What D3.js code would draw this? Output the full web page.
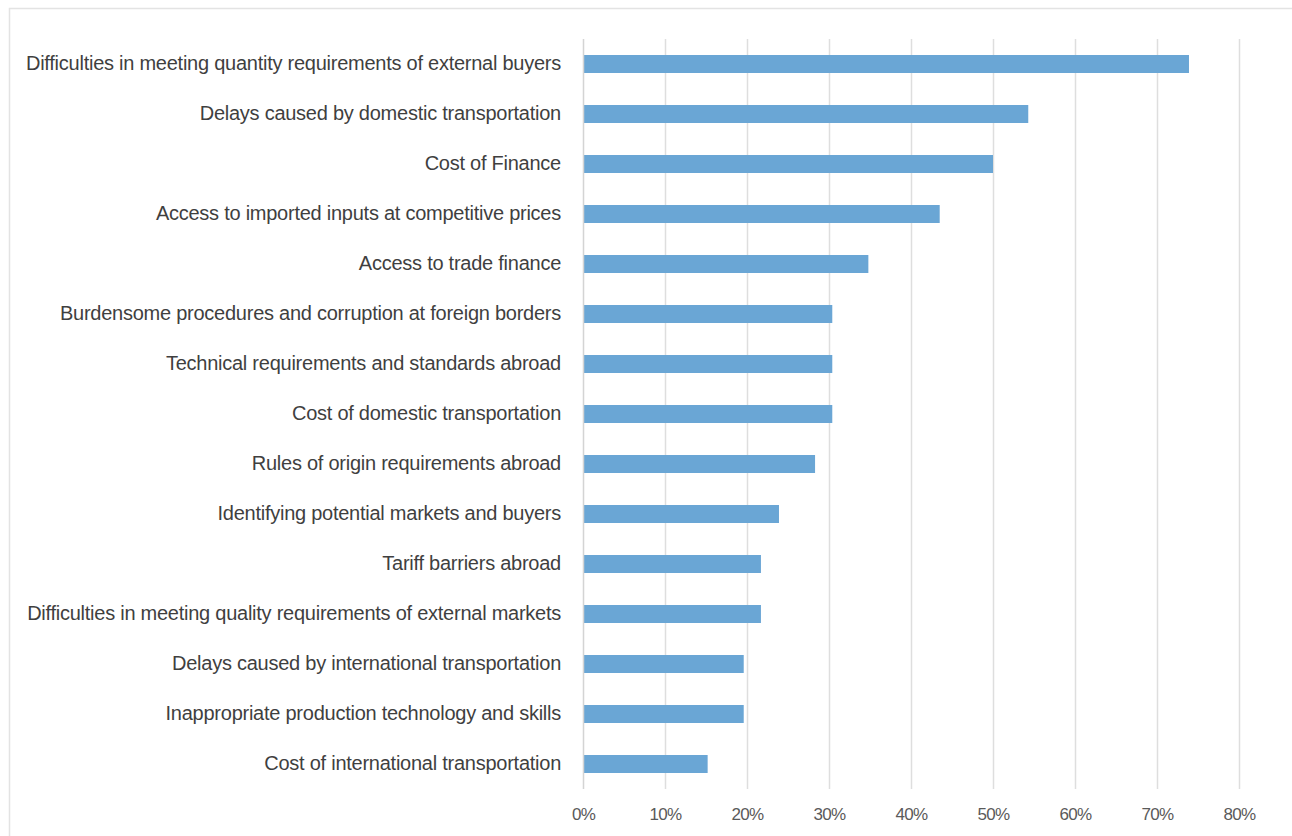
<!DOCTYPE html>
<html>
<head>
<meta charset="utf-8">
<script src="https://cdn.jsdelivr.net/npm/d3@7"></script>
<style>
  html, body { margin: 0; padding: 0; background: #ffffff; }
  svg { display: block; }
</style>
</head>
<body>
<svg id="chart" width="1292" height="836"></svg>
<script>
// Share of respondents reporting each export obstacle
const categories = [
  "Difficulties in meeting quantity requirements of external buyers",
  "Delays caused by domestic transportation",
  "Cost of Finance",
  "Access to imported inputs at competitive prices",
  "Access to trade finance",
  "Burdensome procedures and corruption at foreign borders",
  "Technical requirements and standards abroad",
  "Cost of domestic transportation",
  "Rules of origin requirements abroad",
  "Identifying potential markets and buyers",
  "Tariff barriers abroad",
  "Difficulties in meeting quality requirements of external markets",
  "Delays caused by international transportation",
  "Inappropriate production technology and skills",
  "Cost of international transportation"
];
const values = [0.739, 0.543, 0.500, 0.435, 0.348, 0.304, 0.304, 0.304, 0.283, 0.239, 0.217, 0.217, 0.196, 0.196, 0.152];
const tickValues = [0, 0.1, 0.2, 0.3, 0.4, 0.5, 0.6, 0.7, 0.8];

const svg = d3.select("#chart");
const W = 1292, H = 836;
const margin = { top: 39, right: 53, bottom: 47, left: 583 };

// outer frame (runs past the right and bottom edges)
svg.append("rect")
  .attr("x", 9.5).attr("y", 8.5)
  .attr("width", W + 20).attr("height", H)
  .attr("fill", "#ffffff")
  .attr("stroke", "#e3e3e3")
  .attr("stroke-width", 1.5);

const x = d3.scaleLinear()
  .domain([0, 0.8])
  .range([margin.left, W - margin.right]);

const y = d3.scaleBand()
  .domain(categories)
  .range([margin.top, H - margin.bottom])
  .paddingInner(0.64)
  .paddingOuter(0.32);

// vertical gridlines
svg.append("g")
  .selectAll("line")
  .data(tickValues.slice(1))
  .join("line")
  .attr("x1", d => x(d) + 0.5).attr("x2", d => x(d) + 0.5)
  .attr("y1", margin.top).attr("y2", H - margin.bottom)
  .attr("stroke", "#dedede")
  .attr("stroke-width", 1.5);

// bars
svg.append("g")
  .selectAll("rect")
  .data(categories)
  .join("rect")
  .attr("x", x(0))
  .attr("y", d => y(d))
  .attr("width", (d, i) => x(values[i]) - x(0))
  .attr("height", y.bandwidth())
  .attr("fill", "#6aa6d5");

// category axis line at zero
svg.append("line")
  .attr("x1", x(0) + 0.5).attr("x2", x(0) + 0.5)
  .attr("y1", margin.top).attr("y2", H - margin.bottom)
  .attr("stroke", "#d4d4d4")
  .attr("stroke-width", 1.5);

// category labels
const yAxis = d3.axisLeft(y).tickSize(0).tickPadding(22);
const gy = svg.append("g")
  .attr("transform", `translate(${x(0)},0)`)
  .call(yAxis);
gy.select(".domain").remove();
gy.selectAll("text")
  .attr("font-family", "'Liberation Sans', Arial, sans-serif")
  .attr("font-size", 20)
  .attr("fill", "#3f3f3f")
  .style("letter-spacing", "-0.25px");

// value axis labels
const xAxis = d3.axisBottom(x)
  .tickValues(tickValues)
  .tickFormat(d3.format(".0%"))
  .tickSize(0)
  .tickPadding(19);
const gx = svg.append("g")
  .attr("transform", `translate(0,${H - margin.bottom})`)
  .call(xAxis);
gx.select(".domain").remove();
gx.selectAll("text")
  .attr("font-family", "'Liberation Sans', Arial, sans-serif")
  .attr("font-size", 17)
  .attr("fill", "#5a5a5a")
  .style("letter-spacing", "-0.7px");
</script>
</body>
</html>
